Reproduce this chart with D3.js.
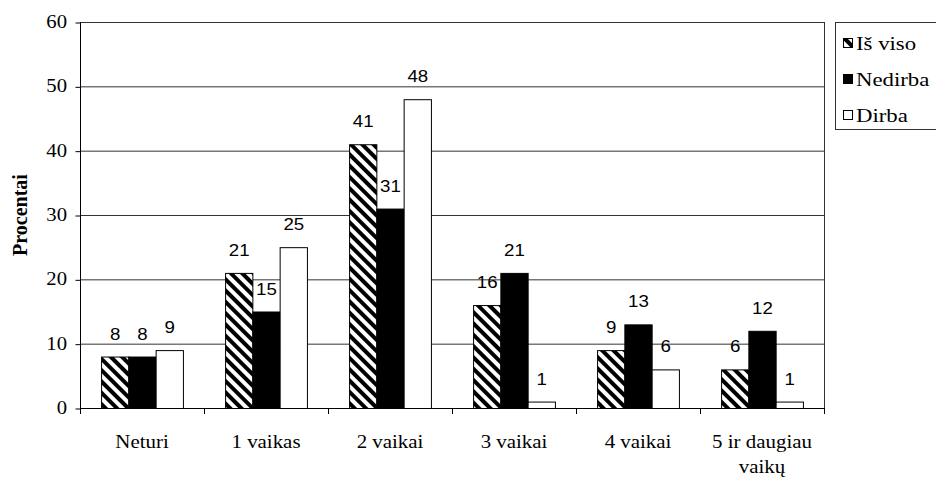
<!DOCTYPE html>
<html><head><meta charset="utf-8">
<script src="https://cdn.jsdelivr.net/npm/d3@7"></script>
<style>body{margin:0;background:#fff}</style>
</head><body>
<svg id="c" width="936" height="482"></svg>
<script>
const categories = ["Neturi", "1 vaikas", "2 vaikai", "3 vaikai", "4 vaikai", "5 ir daugiau|vaikų"];
const seriesNames = ["Iš viso", "Nedirba", "Dirba"];
const isViso = [8, 21, 41, 16, 9, 6];
const nedirba = [8, 15, 31, 21, 13, 12];
const dirba = [9, 25, 48, 1, 6, 1];
const yTicks = [0, 10, 20, 30, 40, 50, 60];
const yTitle = "Procentai";

const series = [isViso, nedirba, dirba];
const fills = ["url(#hatch)", "#000", "#fff"];
const SERIF = "font-family:'Liberation Serif','Times New Roman',serif;";
const SANS = "font-family:'Liberation Sans',Arial,sans-serif;";

const svg = d3.select("#c");
const defs = svg.append("defs");
const pat = defs.append("pattern").attr("id", "hatch").attr("patternUnits", "userSpaceOnUse")
  .attr("width", 8).attr("height", 8).attr("patternTransform", "rotate(-45)");
pat.append("rect").attr("width", 8).attr("height", 8).attr("fill", "#fff");
pat.append("rect").attr("width", 4).attr("height", 8).attr("fill", "#000");

const L = 80, R = 824, T = 22, B = 408;
const x = d3.scaleBand().domain(categories).range([L, R]).paddingInner(0.34).paddingOuter(0.17);
const xs = d3.scaleBand().domain(d3.range(3)).range([0, x.bandwidth()]);
const y = d3.scaleLinear().domain([0, 60]).range([B, T]);

// gridlines
svg.append("g").selectAll("line").data(yTicks.filter(d => d > 0)).join("line")
  .attr("x1", L).attr("x2", R).attr("y1", d => y(d) + 0.5).attr("y2", d => y(d) + 0.5)
  .attr("stroke", "#333").attr("stroke-width", 1);
svg.append("line").attr("x1", R + 0.5).attr("x2", R + 0.5).attr("y1", T).attr("y2", B)
  .attr("stroke", "#333");

// bars
const bandStep = x.step();
categories.forEach((c, i) => {
  series.forEach((s, j) => {
    const x0 = x(c) + xs(j);
    svg.append("rect").attr("x", x0 + 0.5).attr("y", y(s[i]) + 0.5)
      .attr("width", xs.bandwidth()).attr("height", y(0) - y(s[i]))
      .attr("fill", fills[j]).attr("stroke", "#000").attr("stroke-width", 1);
    const tx = x0 + xs.bandwidth() / 2 + 0.5;
    svg.append("text").attr("style", SANS + "font-size:17px").attr("transform", `translate(${tx},${y(s[i]) - 17}) scale(1.1,1)`)
      .attr("text-anchor", "middle").attr("fill", "#000").text(s[i]);
  });
});

// axes
const yAxis = d3.axisLeft(y).tickValues(yTicks).tickSize(5).tickFormat(d3.format("d"));
const gy = svg.append("g").attr("transform", `translate(${L + 0.5},0.5)`).call(yAxis);
gy.select(".domain").attr("stroke", "#000").attr("d", `M-0,${T}V${B}`);
gy.selectAll(".tick line").attr("stroke", "#000");
gy.selectAll(".tick text").remove();
yTicks.forEach(v => {
  svg.append("text").attr("style", SERIF + "font-size:18px").attr("transform", `translate(67,${y(v) + 6}) scale(1.15,1)`)
    .attr("text-anchor", "end").text(v);
});

svg.append("line").attr("x1", L).attr("x2", R + 1).attr("y1", B + 0.5).attr("y2", B + 0.5).attr("stroke", "#000");
d3.range(categories.length + 1).forEach(k => {
  const xx = L + k * bandStep + 0.5;
  svg.append("line").attr("x1", xx).attr("x2", xx).attr("y1", B).attr("y2", B + 6).attr("stroke", "#000");
});

categories.forEach(c => {
  const lines = c.split("|");
  const cx = x(c) + x.bandwidth() / 2;
  lines.forEach((ln, k) => {
    svg.append("text").attr("style", SERIF + "font-size:19px").attr("transform", `translate(${cx},${448 + k * 25}) scale(1.1,1)`)
      .attr("text-anchor", "middle").text(ln);
  });
});

// y title
svg.append("text").attr("style", SERIF + "font-size:20px;font-weight:bold")
  .attr("transform", `translate(27,215) scale(1.1,1) rotate(-90)`)
  .attr("text-anchor", "middle").text(yTitle);

// legend
const lg = svg.append("g");
lg.append("rect").attr("x", 835.5).attr("y", 22.5).attr("width", 120).attr("height", 107)
  .attr("fill", "#fff").attr("stroke", "#333");
seriesNames.forEach((n, j) => {
  const cy = 44 + j * 36;
  lg.append("rect").attr("x", 843.5).attr("y", cy - 5.5).attr("width", 9).attr("height", 9)
    .attr("fill", fills[j]).attr("stroke", "#000");
  lg.append("text").attr("style", SERIF + "font-size:19px").attr("transform", `translate(856,${cy + 6}) scale(1.2,1)`)
    .text(n);
});
</script>
</body></html>
